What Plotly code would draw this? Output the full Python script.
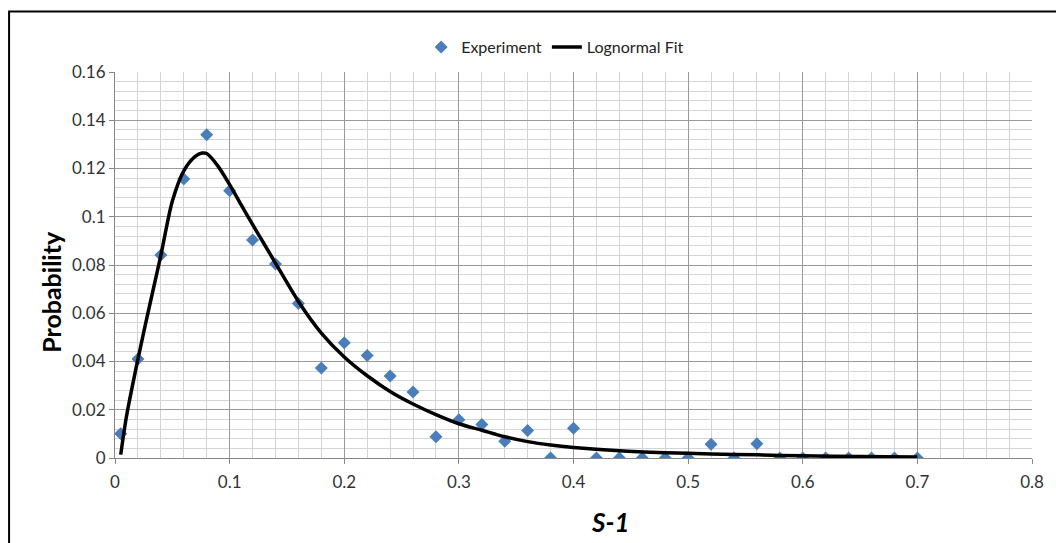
import plotly.graph_objects as go

# ---- Data ----
exp_x = [0.005, 0.02, 0.04, 0.06, 0.08, 0.10, 0.12, 0.14, 0.16, 0.18, 0.20, 0.22, 0.24,
         0.26, 0.28, 0.30, 0.32, 0.34, 0.36, 0.38, 0.40, 0.42, 0.44, 0.46, 0.48, 0.50,
         0.52, 0.54, 0.56, 0.58, 0.60, 0.62, 0.64, 0.66, 0.68, 0.70]
exp_y = [0.0101, 0.041, 0.0841, 0.1156, 0.134, 0.1108, 0.0904, 0.0804, 0.064, 0.0373,
         0.0478, 0.0425, 0.034, 0.0274, 0.0088, 0.0159, 0.0139, 0.0069, 0.0114, 0.0,
         0.0123, 0.0, 0.0, 0.0, 0.0, 0.0, 0.0057, 0.0, 0.0059, 0.0, 0.0, 0.0, 0.0, 0.0,
         0.0, 0.0]

fit_x = [0.005, 0.01, 0.02, 0.03, 0.04, 0.05, 0.06, 0.07, 0.076, 0.08, 0.09, 0.10, 0.11,
         0.12, 0.13, 0.14, 0.16, 0.18, 0.20, 0.22, 0.24, 0.26, 0.28, 0.30, 0.32, 0.34,
         0.36, 0.38, 0.40, 0.44, 0.48, 0.52, 0.56, 0.60, 0.65, 0.70]
fit_y = [0.0014, 0.0172, 0.041, 0.0628, 0.084, 0.1064, 0.119, 0.125, 0.1264, 0.1262,
         0.1209, 0.1133, 0.105, 0.0968, 0.0888, 0.0808, 0.0649, 0.0518, 0.0419, 0.0341,
         0.0276, 0.0224, 0.018, 0.0142, 0.0115, 0.0088, 0.0068, 0.0054, 0.0044, 0.003,
         0.0022, 0.0017, 0.0013, 0.0009, 0.0006, 0.0004]

x_ticks = [0, 0.1, 0.2, 0.3, 0.4, 0.5, 0.6, 0.7, 0.8]
x_tick_labels = ["0", "0.1", "0.2", "0.3", "0.4", "0.5", "0.6", "0.7", "0.8"]
y_ticks = [0, 0.02, 0.04, 0.06, 0.08, 0.1, 0.12, 0.14, 0.16]
y_tick_labels = ["0", "0.02", "0.04", "0.06", "0.08", "0.1", "0.12", "0.14", "0.16"]

FONT = "Lato"
W, H = 1056, 543
ML, MR, MT, MB = 115, 19, 72, 85
PW, PH = W - ML - MR, H - MT - MB


def px_to_paper_x(px):
    return (px - ML) / PW


def px_to_paper_y(py):
    return (H - MB - py) / PH


fig = go.Figure()
fig.add_trace(go.Scatter(
    x=exp_x, y=exp_y, mode="markers", name="Experiment",
    marker=dict(symbol="diamond", size=10, color="#4A7EBB"),
))
fig.add_trace(go.Scatter(
    x=fit_x, y=fit_y, mode="lines", name="Lognormal Fit",
    line=dict(color="black", width=3.5, shape="spline", smoothing=0.8),
))

axis_common = dict(
    showline=True, linecolor="#868686", linewidth=1,
    ticks="outside", ticklen=5, tickcolor="#868686",
    gridcolor="#9a9a9a", gridwidth=1,
    zeroline=False,
    tickfont=dict(family=FONT, size=17, color="#333333"),
)

fig.update_xaxes(
    range=[0, 0.8], tickvals=x_ticks, ticktext=x_tick_labels,
    minor=dict(dtick=0.02, showgrid=True, gridcolor="#d4d4d4", gridwidth=1, ticks=""),
    ticklabelstandoff=4,
    **axis_common,
)
fig.update_yaxes(
    range=[0, 0.16], tickvals=y_ticks, ticktext=y_tick_labels,
    minor=dict(dtick=0.004, showgrid=True, gridcolor="#d4d4d4", gridwidth=1, ticks=""),
    **axis_common,
)

fig.update_layout(
    width=W, height=H,
    margin=dict(l=ML, r=MR, t=MT, b=MB),
    paper_bgcolor="white", plot_bgcolor="white",
    font=dict(family=FONT, size=16, color="#333333"),
    showlegend=True,
    legend=dict(
        orientation="h", x=0.48, xanchor="center",
        y=px_to_paper_y(47), yanchor="middle",
        font=dict(family=FONT, size=16, color="#222222"),
        bgcolor="rgba(0,0,0,0)",
    ),
    shapes=[dict(
        type="rect", xref="paper", yref="paper",
        x0=px_to_paper_x(8.5), x1=px_to_paper_x(1100),
        y0=px_to_paper_y(600), y1=px_to_paper_y(11.5),
        line=dict(color="black", width=2), fillcolor="rgba(0,0,0,0)",
        layer="below",
    )],
    annotations=[
        dict(text="<b>Probability</b>", xref="paper", yref="paper",
             x=px_to_paper_x(50), y=px_to_paper_y(291.5), textangle=-90,
             showarrow=False, font=dict(family=FONT, size=25, color="black"),
             xanchor="center", yanchor="middle"),
        dict(text="<b><i>S-1</i></b>", xref="paper", yref="paper",
             x=px_to_paper_x(613), y=px_to_paper_y(522),
             showarrow=False, font=dict(family=FONT, size=26, color="black"),
             xanchor="center", yanchor="middle"),
    ],
)

fig.write_html("out.html")
